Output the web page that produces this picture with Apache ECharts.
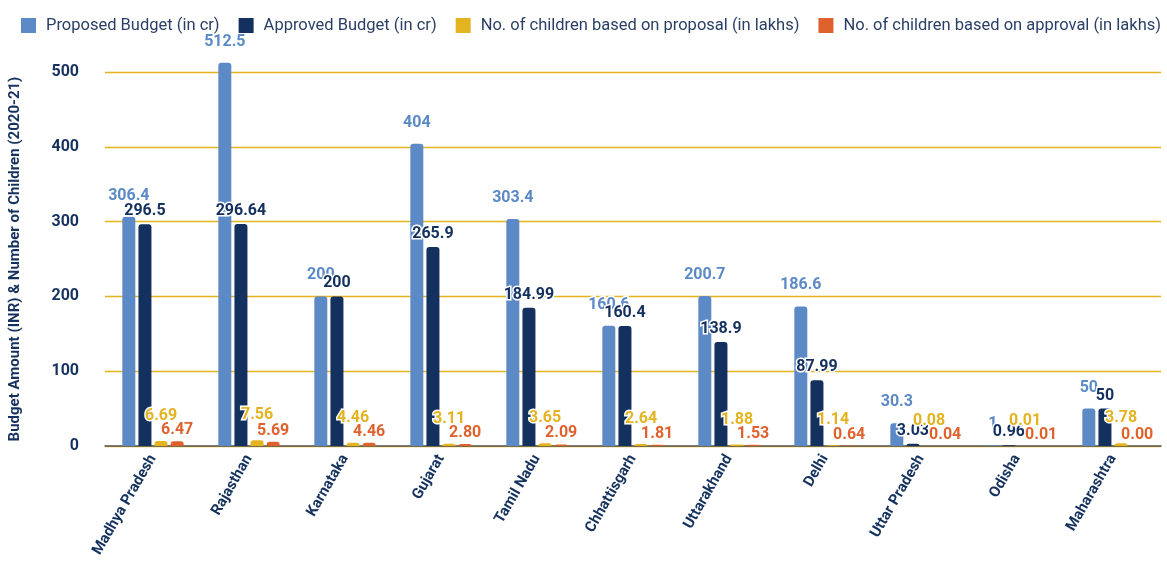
<!DOCTYPE html>
<html>
<head>
<meta charset="utf-8">
<script src="https://cdn.jsdelivr.net/npm/echarts@6/dist/echarts.min.js"></script>
<style>
  html, body { margin: 0; padding: 0; background: #ffffff; }
  #chart { width: 1167px; height: 565px; }
</style>
</head>
<body>
<div id="chart"></div>
<script>
const categories = ["Madhya Pradesh", "Rajasthan", "Karnataka", "Gujarat", "Tamil Nadu", "Chhattisgarh", "Uttarakhand", "Delhi", "Uttar Pradesh", "Odisha", "Maharashtra"];
const proposedBudget = [306.4, 512.5, 200, 404, 303.4, 160.6, 200.7, 186.6, 30.3, 1, 50];
const approvedBudget = [296.5, 296.64, 200, 265.9, 184.99, 160.4, 138.9, 87.99, 3.03, 0.96, 50];
const childrenProposal = [6.69, 7.56, 4.46, 3.11, 3.65, 2.64, 1.88, 1.14, 0.08, 0.01, 3.78];
const childrenApproval = [6.47, 5.69, 4.46, 2.80, 2.09, 1.81, 1.53, 0.64, 0.04, 0.01, 0.00];
const seriesNames = ["Proposed Budget (in cr)", "Approved Budget (in cr)", "No. of children based on proposal (in lakhs)", "No. of children based on approval (in lakhs)"];
const yTicks = [0, 100, 200, 300, 400, 500];

const colors = ["#5B8AC6", "#13305F", "#E3B320", "#DF622E"];
const navy = "#15325F";
const font = "Roboto";

function mkSeries(name, data, color, offsetY, fmt) {
  return {
    name: name,
    type: "bar",
    data: data,
    barWidth: 13,
    barGap: "24%",
    clip: false,
    itemStyle: { color: color, borderRadius: [3, 3, 0, 0] },
    label: {
      show: true,
      position: "top",
      distance: 3,
      offset: [0, offsetY],
      color: color,
      fontFamily: font,
      fontWeight: "bold",
      fontSize: 16,
      textBorderColor: "#ffffff",
      textBorderWidth: 3,
      formatter: fmt
    }
  };
}

const chart = echarts.init(document.getElementById("chart"), null, { renderer: "canvas" });
chart.setOption({
  animation: false,
  backgroundColor: "#ffffff",
  textStyle: { fontFamily: font },
  legend: {
    top: 12,
    left: 16,
    itemWidth: 15,
    itemHeight: 15,
    itemGap: 19,
    icon: "rect",
    textStyle: { fontFamily: font, fontSize: 16.5, color: "#2a3f66", padding: [0, 0, 0, 5] },
    data: seriesNames
  },
  grid: { left: 105, right: 6, top: 72, bottom: 119, containLabel: false, outerBoundsMode: "none" },
  xAxis: {
    type: "category",
    data: categories,
    name: "State/UT",
    nameLocation: "middle",
    nameGap: 104,
    nameTextStyle: { fontFamily: font, fontWeight: "bold", fontSize: 15, color: navy },
    axisLine: { lineStyle: { color: "#555555", width: 1.5 } },
    axisTick: { show: false },
    axisLabel: {
      interval: 0,
      rotate: 60,
      margin: 10,
      fontFamily: font,
      fontWeight: "bold",
      fontSize: 15,
      color: navy
    }
  },
  yAxis: {
    type: "value",
    min: yTicks[0],
    max: yTicks[yTicks.length - 1],
    interval: 100,
    name: "Budget Amount (INR) & Number of Children (2020-21)",
    nameLocation: "middle",
    nameGap: 82,
    nameTextStyle: { fontFamily: font, fontWeight: "bold", fontSize: 15, color: navy },
    axisLine: { show: false },
    axisTick: { show: false },
    axisLabel: { fontFamily: font, fontWeight: "bold", fontSize: 16, color: navy, margin: 26 },
    splitLine: { lineStyle: { color: "#E3B320", width: 1.3 } }
  },
  series: [
    mkSeries(seriesNames[0], proposedBudget, colors[0], -10, p => String(p.value)),
    mkSeries(seriesNames[1], approvedBudget, colors[1], -2, p => String(p.value)),
    mkSeries(seriesNames[2], childrenProposal, colors[2], -14, p => p.value.toFixed(2)),
    mkSeries(seriesNames[3], childrenApproval, colors[3], 0, p => p.value.toFixed(2))
  ]
});
</script>
</body>
</html>
